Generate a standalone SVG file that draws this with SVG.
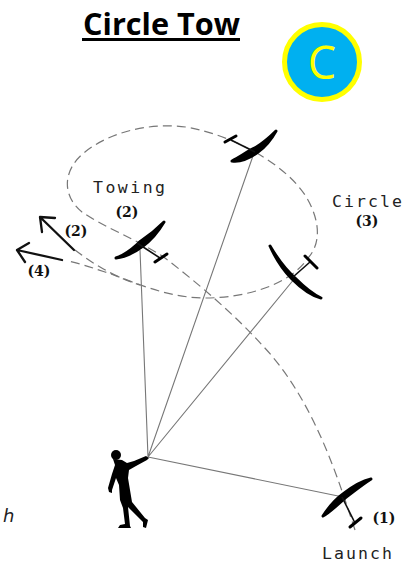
<svg xmlns="http://www.w3.org/2000/svg" width="402" height="563" viewBox="0 0 402 563">
<style>
.dash{fill:none;stroke:#777;stroke-width:1.2;stroke-dasharray:9 5}
.line{fill:none;stroke:#777;stroke-width:1.1}
.wing{fill:#000;stroke:#000;stroke-width:3;stroke-linejoin:round}
.fus{fill:none;stroke:#111;stroke-width:1.6}
.tail{fill:none;stroke:#000;stroke-width:3;stroke-linecap:round}
.arr{fill:none;stroke:#111;stroke-width:2.3;stroke-linecap:round;stroke-linejoin:round}
.mono{font-family:"DejaVu Sans Mono",monospace;font-size:16.5px;fill:#222}
.num{font-family:"DejaVu Serif",serif;font-weight:bold;font-size:14px;fill:#111;text-anchor:middle}
</style>
<rect width="402" height="563" fill="#fff"/>
<g id="title">
<text x="83" y="35" font-family="'Open Sans',sans-serif" font-weight="bold" font-size="30" textLength="157" lengthAdjust="spacingAndGlyphs" fill="#000">Circle Tow</text>
<rect x="82" y="38" width="158" height="3" fill="#000"/>
</g>
<g id="badge">
<circle cx="322" cy="62" r="37.5" fill="#00b0f0" stroke="#ff0" stroke-width="5"/>
<text x="322" y="79" font-family="'Open Sans',sans-serif" font-size="45" fill="#ff0" text-anchor="middle">C</text>
</g>
<g id="connectors">
<path class="dash" d="M355 530C340 485 315 400 262 345C235 315 200 285 165 258C135 238 105 228 82 212C62 196 62 170 85 152C115 128 165 120 200 130C240 140 285 165 305 195C322 222 320 245 308 258C290 285 245 298 205 298C165 298 130 280 105 272C90 267 78 263 68 261"/>
<path class="dash" d="M75 250C92 263 112 276 140 285"/>
<path class="line" d="M148 457L140 250M148 457L254 153M148 457L295 278M148 457L343 497"/>
<path class="arr" d="M74 250L40 217M55 218L40 217L42 232"/>
<path class="arr" d="M62 260L17 250M29 243L17 250L25 262"/>
</g>
<g id="glider-towing">
<path class="wing" d="M116 258C128 254 135 246 141 241C150 235 158 228 164 222C158 232 150 241 143 246C135 252 126 257 116 258Z"/>
<path class="fus" d="M137 243L160 258"/>
<path class="tail" d="M155 262L167 254"/>
</g>
<g id="glider-top">
<path class="wing" d="M232 161C240 157 248 151 255 148C263 143 270 137 276 131C271 140 265 147 258 152C250 158 240 162 232 161Z"/>
<path class="fus" d="M231 140L255 152"/>
<path class="tail" d="M225 142L236 136"/>
</g>
<g id="glider-right">
<path class="wing" d="M270 246C277 258 285 269 295 278C302 285 312 294 321 298C312 296 301 288 292 279C283 270 275 257 270 246Z"/>
<path class="fus" d="M293 277L310 262"/>
<path class="tail" d="M305 256L317 268"/>
</g>
<g id="glider-launch">
<path class="wing" d="M323 516C329 507 336 499 343 494C352 487 362 481 371 479C363 484 353 492 345 498C337 505 329 513 323 516Z"/>
<path class="fus" d="M342 497L355 523"/>
<path class="tail" d="M350 527L361 518"/>
</g>
<g id="person">
<circle cx="116" cy="455" r="5"/>
<path d="M113 459L122 460L127 463L134 461L146 456L149 458L147 460L136 466L129 470L128 478L130 490L132 502L145 518L148 520L146 528L143 527L143 522L128 507L130 526L131 528L118 528L120 525L125 524L123 508L120 500L119 485L116 478L112 490L112 493L109 492L108 488L112 474L115 465Z"/>
</g>
<g id="labels">
<text class="mono" x="93" y="193" textLength="72">Towing</text>
<text class="num" x="127" y="217">(2)</text>
<text class="num" x="76" y="236">(2)</text>
<text class="num" x="39" y="276">(4)</text>
<text class="mono" x="332" y="207" textLength="70">Circle</text>
<text class="num" x="367" y="226">(3)</text>
<text class="num" x="384" y="523">(1)</text>
<text class="mono" x="322" y="559" textLength="70">Launch</text>
<text x="3" y="522" font-family="'DejaVu Sans',sans-serif" font-style="italic" font-size="18" fill="#222">h</text>
</g>
</svg>
